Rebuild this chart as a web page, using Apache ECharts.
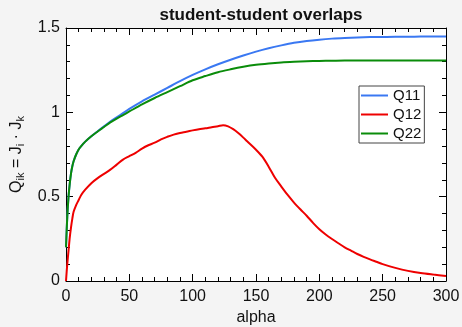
<!DOCTYPE html>
<html>
<head>
<meta charset="utf-8">
<script src="https://cdn.jsdelivr.net/npm/echarts@6/dist/echarts.min.js"></script>
<style>
html,body{margin:0;padding:0;background:#f4f4f4;}
#c{width:462px;height:327px;}
</style>
</head>
<body>
<div id="c"></div>
<script>
const alphaQ = [0,1,2,3,4,5,6,8,10,12,15,20,25,30,35,40,45,50,60,70,80,90,100,110,120,130,140,150,160,170,180,190,200,210,220,230,240,250,260,270,280,290,300];
const q11 = [0.2,0.38,0.5,0.58,0.64,0.68,0.71,0.75,0.78,0.80,0.825,0.858,0.888,0.917,0.945,0.97,0.995,1.02,1.065,1.105,1.145,1.185,1.222,1.255,1.285,1.312,1.337,1.36,1.38,1.397,1.412,1.423,1.431,1.437,1.441,1.444,1.446,1.447,1.448,1.448,1.449,1.449,1.449];
const q22 = [0.2,0.38,0.5,0.58,0.64,0.68,0.71,0.75,0.78,0.80,0.825,0.858,0.886,0.913,0.94,0.963,0.984,1.005,1.047,1.085,1.12,1.155,1.19,1.215,1.238,1.255,1.27,1.282,1.29,1.296,1.3,1.303,1.305,1.306,1.307,1.307,1.307,1.307,1.307,1.307,1.307,1.307,1.307];
const alphaR = [0,1,2,3,4,5,6,8,10,12,15,20,25,30,35,40,45,50,55,60,65,70,75,80,85,90,95,100,105,110,115,120,124,128,132,136,140,143,150,155,160,165,170,175,180,185,190,195,200,205,210,215,220,225,230,235,240,245,250,260,270,280,290,300];
const q12 = [0,0.1,0.18,0.26,0.32,0.37,0.41,0.45,0.48,0.51,0.54,0.58,0.61,0.635,0.66,0.69,0.72,0.74,0.76,0.785,0.805,0.82,0.84,0.855,0.868,0.878,0.885,0.893,0.9,0.905,0.912,0.918,0.924,0.917,0.9,0.877,0.85,0.828,0.778,0.737,0.678,0.612,0.56,0.51,0.465,0.425,0.387,0.345,0.307,0.276,0.249,0.224,0.2,0.18,0.16,0.143,0.128,0.114,0.1,0.078,0.06,0.047,0.038,0.03];
const xTicks = [0,50,100,150,200,250,300];
const yTicks = [0,0.5,1,1.5];

const pair = (xs, ys) => xs.map((x, i) => [x, ys[i]]);
const font = 'Liberation Sans, Arial, Helvetica, sans-serif';
const chart = echarts.init(document.getElementById('c'));

const baseX = {
  type: 'value', min: xTicks[0], max: xTicks[xTicks.length-1], interval: 50,
  axisLine: {show: true, onZero: false, lineStyle: {color: '#000', width: 1}},
  axisTick: {show: true, inside: true, length: 7, lineStyle: {color: '#000'}},
  minorTick: {show: true, splitNumber: 5, length: 4, lineStyle: {color: '#000'}},
  splitLine: {show: false}
};
const baseY = {
  type: 'value', min: yTicks[0], max: yTicks[yTicks.length-1], interval: 0.5,
  axisLine: {show: true, onZero: false, lineStyle: {color: '#000', width: 1}},
  axisTick: {show: true, inside: true, length: 7, lineStyle: {color: '#000'}},
  minorTick: {show: true, splitNumber: 5, length: 4, lineStyle: {color: '#000'}},
  splitLine: {show: false}
};

chart.setOption({
  backgroundColor: '#f4f4f4',
  animation: false,
  title: {
    text: 'student-student overlaps', left: 256, top: 2, textAlign: 'center',
    textStyle: {fontFamily: font, fontSize: 17, fontWeight: 'bold', color: '#111'}
  },
  grid: {left: 66, right: 16, top: 28, bottom: 46, outerBoundsMode: 'none', containLabel: false,
         show: true, backgroundColor: '#fff', borderWidth: 0},
  legend: {
    orient: 'vertical', left: 359, top: 86, padding: [1, 3, 1, 2],
    backgroundColor: '#fff', borderColor: '#444', borderWidth: 1, borderRadius: 0,
    itemWidth: 27, itemHeight: 2, itemGap: 2, icon: 'rect',
    textStyle: {fontFamily: font, fontSize: 15, color: '#111', lineHeight: 17},
    data: ['Q11', 'Q12', 'Q22']
  },
  xAxis: [
    Object.assign({}, baseX, {
      position: 'bottom', name: 'alpha', nameLocation: 'middle', nameGap: 29,
      nameTextStyle: {fontFamily: font, fontSize: 16, color: '#111'},
      axisLabel: {fontFamily: font, fontSize: 16, color: '#111', margin: 8}
    }),
    Object.assign({}, baseX, {position: 'top', axisLabel: {show: false}})
  ],
  yAxis: [
    Object.assign({}, baseY, {
      position: 'left', nameLocation: 'middle', nameGap: 33, nameRotate: 90,
      name: '{m|Q}{s|ik}{m| = J}{s|i}{m| · J}{s|k}',
      nameTextStyle: {
        fontFamily: font, color: '#111',
        rich: {
          m: {fontFamily: font, fontSize: 16, color: '#111', lineHeight: 16, verticalAlign: 'top'},
          s: {fontFamily: font, fontSize: 11, color: '#111', lineHeight: 11, padding: [7, 0, 0, 0], verticalAlign: 'top'}
        }
      },
      axisLabel: {fontFamily: font, fontSize: 16, color: '#111', margin: 6}
    }),
    Object.assign({}, baseY, {position: 'right', axisLabel: {show: false}})
  ],
  series: [
    {name: 'Q11', type: 'line', data: pair(alphaQ, q11), showSymbol: false, symbol: 'none', smooth: 0.3,
     lineStyle: {color: '#3a78f2', width: 2}, itemStyle: {color: '#3a78f2'}, z: 2},
    {name: 'Q12', type: 'line', data: pair(alphaR, q12), showSymbol: false, symbol: 'none', smooth: 0.3,
     lineStyle: {color: '#ee0000', width: 2}, itemStyle: {color: '#ee0000'}, z: 3},
    {name: 'Q22', type: 'line', data: pair(alphaQ, q22), showSymbol: false, symbol: 'none', smooth: 0.3,
     lineStyle: {color: '#0a8c0a', width: 2}, itemStyle: {color: '#0a8c0a'}, z: 4}
  ]
});
</script>
</body>
</html>
